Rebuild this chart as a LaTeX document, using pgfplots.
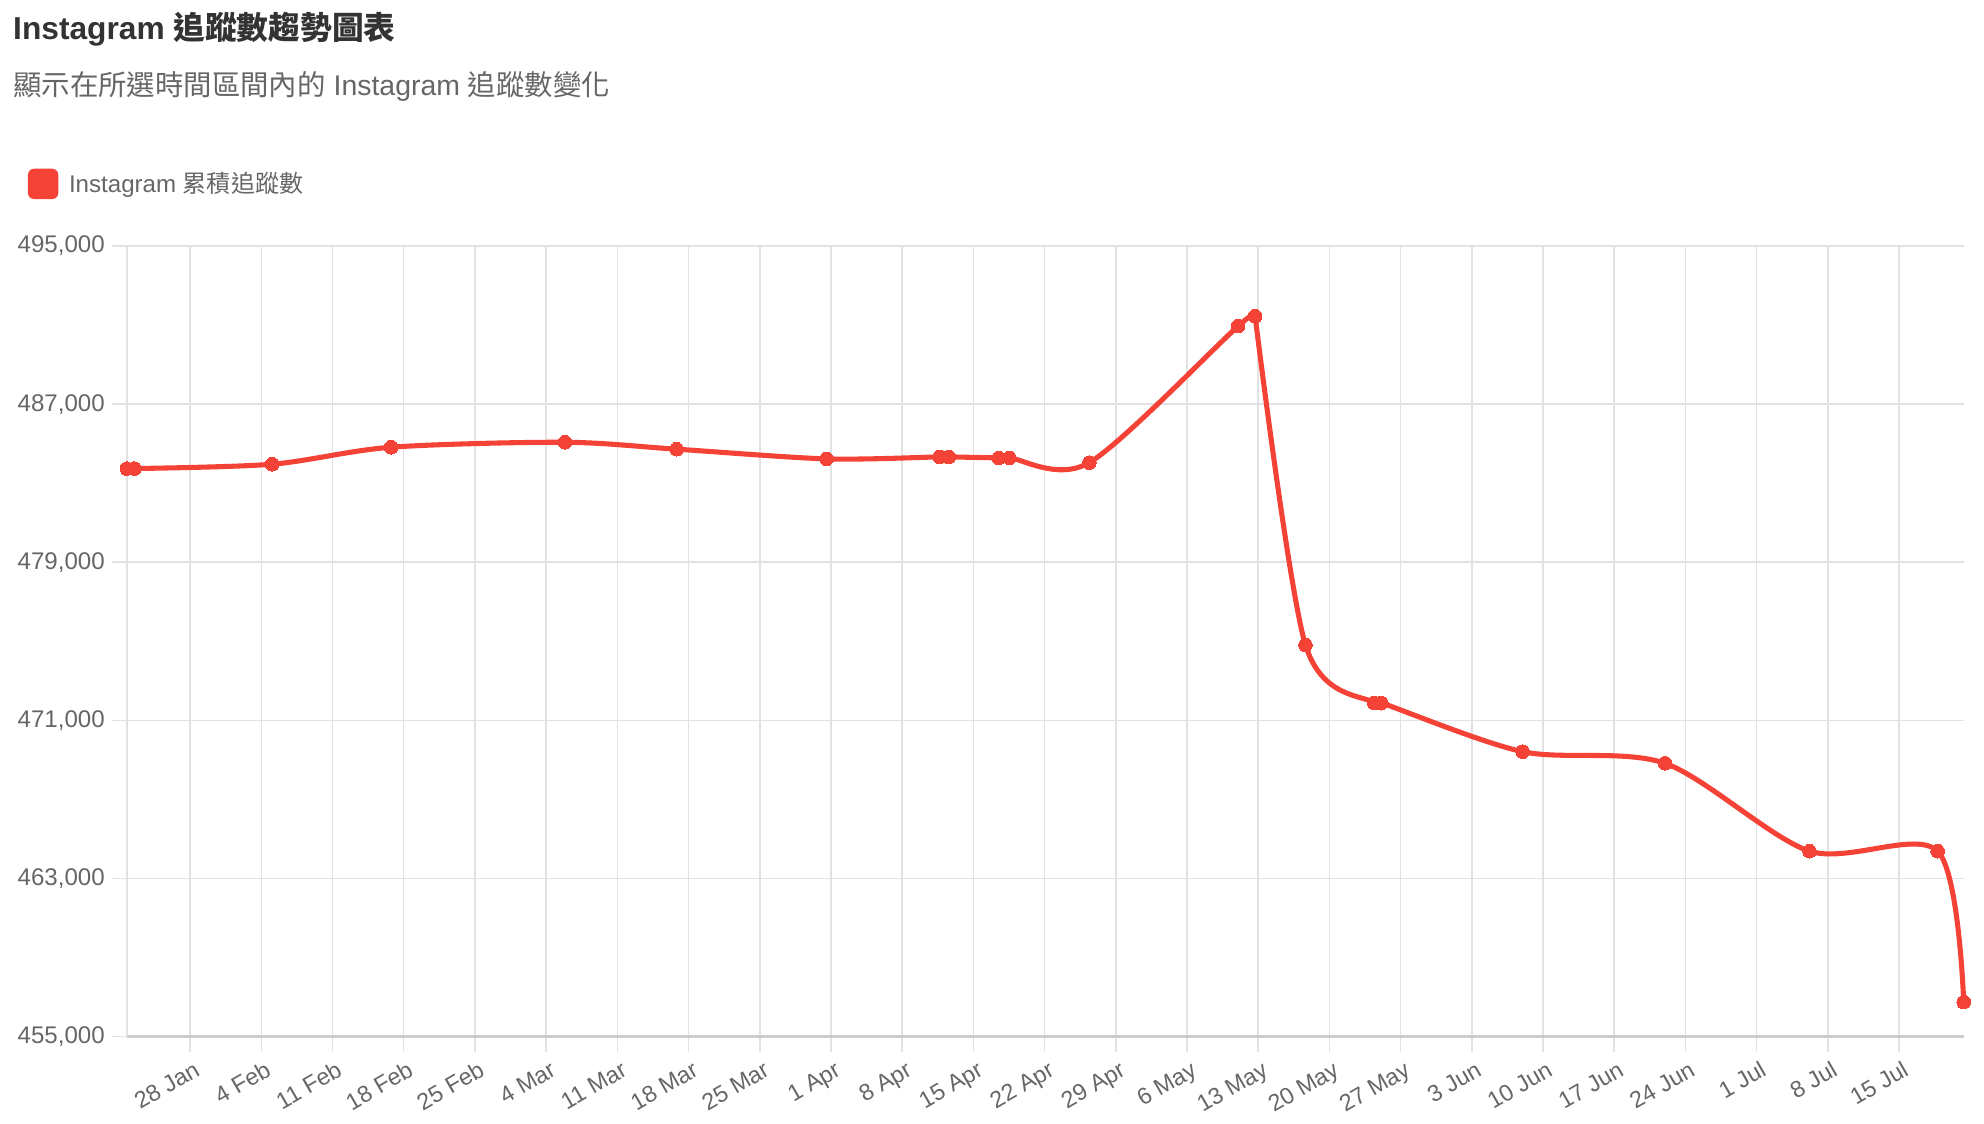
\documentclass[border=0pt]{standalone}
\usepackage{fontspec}
\setmainfont{Liberation Sans}
\newfontfamily\cjk{Noto Sans CJK TC}
\usepackage{pgfplots}
\usepackage{pgfplotstable}
\pgfplotsset{compat=1.18}

\definecolor{igred}{HTML}{F44336}
\definecolor{txtdark}{HTML}{333333}
\definecolor{txtgray}{HTML}{666666}
\definecolor{gridgray}{HTML}{E2E2E2}
\definecolor{axisgray}{HTML}{CCCCCC}

% day = days since 1 Jan (0-based), followers = cumulative count
\pgfplotstableread{
day     followers
20.78   483740
21.53   483740
35.07   483960
46.77   484820
63.85   485070
74.83   484720
89.57   484230
100.67  484330
101.58  484330
106.50  484280
107.55  484280
115.40  484040
130.03  490950
131.70  491450
136.65  474810
143.40  471880
144.10  471880
158.00  469410
172.00  468820
186.20  464375
198.80  464375
201.36  456735
}\igdata

\begin{document}
\begin{tikzpicture}
\path[use as bounding box] (-50pt,-34.5pt) rectangle (732pt,408.5pt);

\begin{axis}[
  at={(0,0)}, anchor=south west,
  scale only axis, width=724pt, height=311.5pt,
  xmin=20.78, xmax=201.36,
  ymin=455000, ymax=495000,
  xtick={27,34,...,195},
  xticklabels={28 Jan,4 Feb,11 Feb,18 Feb,25 Feb,4 Mar,11 Mar,18 Mar,25 Mar,1 Apr,8 Apr,15 Apr,22 Apr,29 Apr,6 May,13 May,20 May,27 May,3 Jun,10 Jun,17 Jun,24 Jun,1 Jul,8 Jul,15 Jul},
  ytick={455000,463000,471000,479000,487000,495000},
  scaled y ticks=false,
  /pgf/number format/fixed,
  /pgf/number format/1000 sep={,},
  /pgf/number format/assume math mode=true,
  axis x line=bottom, axis y line=left,
  x axis line style={-, draw=axisgray, line width=1pt},
  y axis line style={-, draw=gridgray, line width=0.6pt},
  grid=major,
  major grid style={draw=gridgray, line width=0.6pt},
  tick align=outside, major tick length=6pt,
  tick style={draw=gridgray, line width=0.6pt},
  ticklabel style={text=txtgray},
  yticklabel style={font=\fontsize{9.5}{11}\selectfont, anchor=east, inner sep=0pt, xshift=-2.5pt},
  xticklabel style={font=\fontsize{9.2}{10}\selectfont, xshift=4.5pt, yshift=-9pt, rotate=30, anchor=base east, inner sep=0pt},
  clip=false,
]
% line drawn in pieces so the sharp peak and the first pair keep their shape
\addplot[igred, line width=2pt, line cap=round, restrict x to domain=20:22]
  table[x=day, y=followers]{\igdata};
\addplot[igred, line width=2pt, line cap=round, smooth, restrict x to domain=21.5:131.8]
  table[x=day, y=followers]{\igdata};
\addplot[igred, line width=2pt, line cap=round, smooth, restrict x to domain=131.6:202]
  table[x=day, y=followers]{\igdata};
\addplot[only marks, mark=*, mark size=2.7pt,
  mark options={fill=igred, draw=igred, line width=0pt}]
  table[x=day, y=followers]{\igdata};
\end{axis}

\node[anchor=base west, inner sep=0pt, text=txtdark,
  font=\fontsize{12.5}{15}\selectfont\bfseries] at (-45pt,393pt)
  {Instagram {\cjk\bfseries 追蹤數趨勢圖表}};
\node[anchor=base west, inner sep=0pt, text=txtgray,
  font=\fontsize{11.2}{13}\selectfont] at (-45pt,371pt)
  {{\cjk 顯示在所選時間區間內的} Instagram {\cjk 追蹤數變化}};
\fill[igred, rounded corners=2.5pt] (-39pt,330pt) rectangle (-27pt,342pt);
\node[anchor=base west, inner sep=0pt, text=txtgray,
  font=\fontsize{9.5}{11}\selectfont] at (-23pt,332.5pt)
  {Instagram {\cjk 累積追蹤數}};
\end{tikzpicture}
\end{document}
